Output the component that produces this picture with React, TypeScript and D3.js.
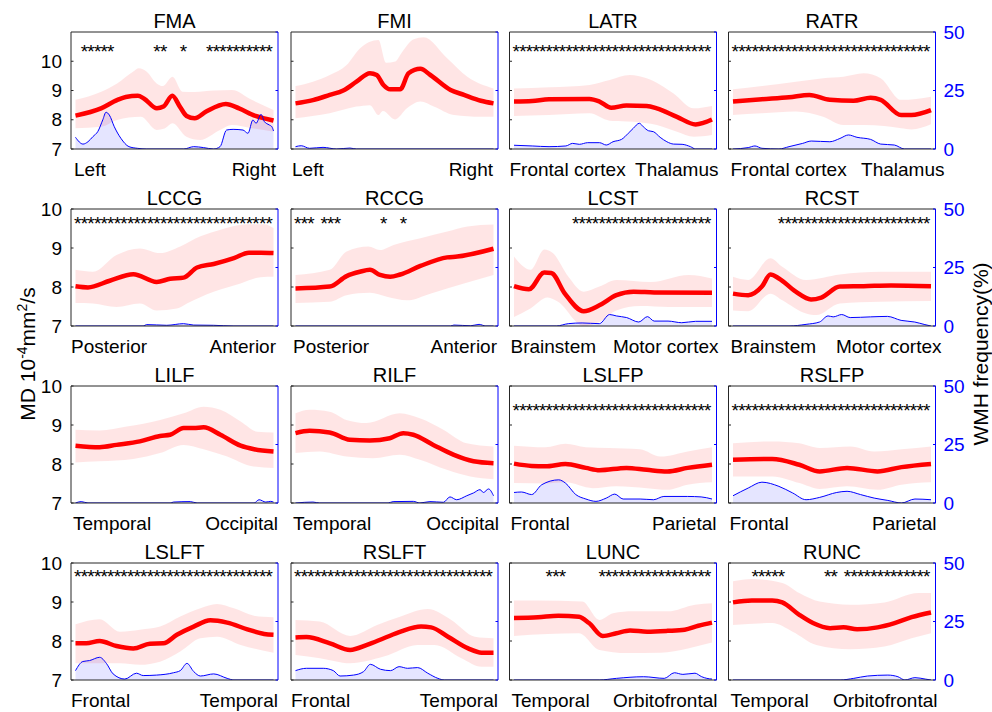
import React from "react";
import * as d3 from "d3";

// panel order: row by row, left to right
const titles = ["FMA", "FMI", "LATR", "RATR", "LCCG", "RCCG", "LCST", "RCST", "LILF", "RILF", "LSLFP", "RSLFP", "LSLFT", "RSLFT", "LUNC", "RUNC"];
const startLabels = ["Left", "Left", "Frontal cortex", "Frontal cortex", "Posterior", "Posterior", "Brainstem", "Brainstem", "Temporal", "Temporal", "Frontal", "Frontal", "Frontal", "Frontal", "Temporal", "Temporal"];
const endLabels = ["Right", "Right", "Thalamus", "Thalamus", "Anterior", "Anterior", "Motor cortex", "Motor cortex", "Occipital", "Occipital", "Parietal", "Parietal", "Temporal", "Temporal", "Orbitofrontal", "Orbitofrontal"];

const rowMax = [11, 10, 10, 10];
const mdTicks = [7, 8, 9, 10];
const wmhTicks = [0, 25, 50];
const starLevel = [10.45, 9.72, 9.47, 9.74];
const nSegments = 30;

// [position along tract (%), MD]
const fmaMean = [[0, 8.14], [12.9, 8.39], [21.2, 8.68], [25.4, 8.78], [31.5, 8.82], [34.5, 8.73], [41.1, 8.39], [44.4, 8.45], [48.9, 8.82], [52.7, 8.45], [56.1, 8.13], [60.2, 8.05], [66, 8.28], [75.9, 8.54], [82.6, 8.39], [90.9, 8.13], [95.9, 8.04], [100, 7.97]];
const fmaUpper = [[0, 8.68], [13, 8.96], [21, 9.24], [29, 9.64], [32, 9.76], [36, 9.64], [41, 9.24], [44, 9.15], [49, 9.47], [54, 8.96], [60, 8.95], [70, 9.0], [79, 9.02], [89, 8.68], [100, 8.33]];
const fmaLower = [[0, 7.71], [13, 7.76], [21, 7.99], [33, 8.1], [41, 7.65], [45, 7.7], [49, 7.88], [56, 7.42], [63, 7.31], [73, 7.65], [79, 7.82], [89, 7.71], [100, 7.59]];
const fmaWmh = [[0, 5.0], [3.8, 2.1], [6.3, 3.1], [8.8, 5.3], [11.3, 7.5], [13.8, 12.5], [15.4, 15.7], [17.1, 14.5], [19.6, 9.5], [22.9, 4.6], [27, 1.0], [31.2, 0.3], [36, 0], [54.7, 0], [59.7, 1.0], [64.7, 0.6], [69.7, 0], [73, 1], [76.3, 8.1], [79.6, 8.4], [84.6, 8.1], [87.1, 6.7], [89.6, 12.4], [91.2, 11], [93.7, 14.8], [95.4, 11.7], [97.8, 10.3], [99.2, 9.5], [100, 7.7]];

const fmiMean = [[0, 8.56], [8.8, 8.67], [17.3, 8.85], [24.1, 9.0], [30.8, 9.3], [37.6, 9.59], [41, 9.53], [44.4, 9.19], [47.8, 9.04], [52.9, 9.04], [57.1, 9.59], [63.1, 9.74], [68.1, 9.53], [78.3, 9.02], [85.1, 8.85], [93.6, 8.65], [100, 8.56]];
const fmiUpper = [[0, 9.15], [8.8, 9.3], [17.3, 9.53], [25.8, 9.87], [32.5, 10.44], [41.9, 10.73], [45.8, 9.95], [50.3, 9.99], [53.7, 10.3], [59.7, 10.75], [64.7, 10.82], [76.6, 10.1], [86.8, 9.47], [100, 9.07]];
const fmiLower = [[0, 8.05], [17.3, 8.22], [30.8, 8.45], [37.6, 8.5], [41.9, 8.16], [44.1, 8.3], [50.3, 8.01], [56.3, 8.39], [63.1, 8.62], [69.8, 8.45], [80, 8.16], [93.6, 8.1], [100, 8.1]];
const fmiWmh = [[0, 1.0], [2.9, 1.4], [7.1, 0.3], [13.9, 0.7], [20.7, 0], [27.5, 0.4], [30.8, 0], [100, 0]];

const latrMean = [[0, 8.62], [9.2, 8.64], [17.7, 8.7], [38.1, 8.71], [43.2, 8.62], [49.1, 8.41], [56.8, 8.49], [67, 8.47], [72.1, 8.39], [82.3, 8.1], [91.7, 7.84], [95.9, 7.9], [100, 8.01]];
const latrUpper = [[0, 9.07], [17.7, 9.11], [38.1, 9.19], [48.3, 9.36], [58.5, 9.53], [67, 9.42], [80.6, 8.9], [90.8, 8.39], [100, 8.47]];
const latrLower = [[0, 8.13], [17.7, 8.16], [38.1, 8.22], [48.3, 7.97], [60.2, 7.93], [72.1, 7.82], [82.3, 7.59], [90.8, 7.42], [100, 7.48]];
const latrWmh = [[0, 1.6], [9.2, 1.3], [17.7, 1.0], [26.2, 1.3], [29.6, 2.4], [33, 2.0], [37.2, 2.7], [43.2, 2.7], [46.6, 1.7], [50, 3.1], [54.3, 4.1], [57.7, 6.7], [60.2, 8.8], [63.3, 11], [65.3, 9.5], [67.9, 7.8], [70.4, 7.4], [73.8, 5], [77.2, 3.1], [80.6, 2.1], [84.9, 2.0], [89.1, 1.0], [91.7, 0], [100, 0]];

const ratrMean = [[0, 8.62], [14.6, 8.7], [28.3, 8.77], [38.6, 8.85], [48.9, 8.68], [60.9, 8.65], [69.5, 8.75], [74.6, 8.68], [84.9, 8.16], [90.1, 8.16], [100, 8.33]];
const ratrUpper = [[0, 9.04], [14.6, 9.15], [31.7, 9.3], [45.5, 9.42], [55.7, 9.47], [66, 9.59], [74.6, 9.42], [84.9, 8.68], [100, 8.79]];
const ratrLower = [[0, 8.16], [14.6, 8.22], [31.7, 8.28], [45.5, 8.1], [55.7, 7.82], [66, 7.82], [76.3, 7.79], [84.9, 7.71], [90.1, 7.67], [100, 7.85]];
const ratrWmh = [[0, 0], [7.7, 0.6], [11.1, 1.3], [14.6, 0.3], [23.2, 0], [28.3, 1.0], [35.2, 2.4], [39.5, 3.4], [48.9, 3.1], [54, 4.5], [58.3, 6.0], [62.6, 5.0], [69.5, 4.1], [74.6, 2.1], [81.5, 1.7], [86.6, 0], [100, 0]];

const lccgMean = [[0, 8.02], [6.3, 7.99], [17.3, 8.16], [29.2, 8.33], [41, 8.13], [47.8, 8.21], [54.6, 8.24], [61.4, 8.5], [69.8, 8.59], [80, 8.74], [87.6, 8.88], [93.6, 8.88], [100, 8.87]];
const lccgUpper = [[0, 8.44], [8.8, 8.39], [20.7, 8.82], [32.5, 8.99], [42.7, 8.87], [52.9, 9.04], [63.1, 9.3], [73.2, 9.47], [86.8, 9.61], [95.3, 9.61], [100, 9.51]];
const lccgLower = [[0, 7.59], [8.8, 7.58], [20.7, 7.49], [32.5, 7.58], [41, 7.4], [51.2, 7.45], [56.3, 7.58], [69.8, 7.88], [83.4, 8.09], [93.6, 8.25], [100, 8.26]];
const lccgWmh = [[0, 0], [34.2, 0], [35.9, 0.6], [46.1, 0.3], [54.6, 1.0], [59.7, 0.4], [69.8, 0.3], [80, 0], [100, 0]];

const rccgMean = [[0, 7.96], [17.3, 8.01], [25.8, 8.28], [32.5, 8.39], [37.6, 8.44], [42.7, 8.31], [47.8, 8.26], [52.9, 8.32], [63.1, 8.54], [76.6, 8.76], [81.7, 8.78], [100, 8.98]];
const rccgUpper = [[0, 8.31], [17.3, 8.44], [25.8, 8.91], [36.8, 9.04], [42.7, 8.95], [49.5, 9.08], [63.1, 9.25], [76.6, 9.42], [86.8, 9.55], [100, 9.6]];
const rccgLower = [[0, 7.59], [17.3, 7.62], [25.8, 7.79], [37.6, 7.85], [46.1, 7.75], [56.3, 7.66], [68.1, 7.83], [85.1, 8.09], [100, 8.31]];
const rccgWmh = [[0, 0], [78.3, 0], [80, 0.4], [88.5, 0.1], [92.7, 0.7], [96.1, 0], [100, 0]];

const lcstMean = [[0, 8.02], [7.5, 7.94], [15.3, 8.37], [18.8, 8.36], [25.7, 7.83], [35.2, 7.38], [43.1, 7.53], [51.7, 7.79], [60.4, 7.88], [70.8, 7.86], [100, 7.85]];
const lcstUpper = [[0, 8.78], [4.9, 8.52], [8.3, 8.44], [15.3, 8.96], [19.6, 8.87], [27.4, 8.27], [35.2, 7.88], [43.1, 8.01], [51.7, 8.18], [69.1, 8.13], [88.2, 8.31], [100, 8.22]];
const lcstLower = [[0, 7.23], [8.3, 7.45], [17, 7.73], [22.2, 7.62], [35.2, 7.0], [43.1, 7.1], [51.7, 7.4], [63.9, 7.51], [77.8, 7.49], [100, 7.49]];
const lcstWmh = [[0, 0], [21.4, 0], [27.4, 1.0], [34.4, 1.3], [43.1, 1.0], [48.3, 4.9], [51.7, 4.3], [56.9, 3.6], [63, 1.7], [67.4, 4.0], [70.8, 2.1], [77.8, 2.1], [84.7, 1.4], [91.7, 2.0], [100, 2.0]];

const rcstMean = [[0, 7.83], [7.7, 7.79], [14.6, 8.01], [18.9, 8.32], [23.2, 8.22], [31.7, 7.88], [39.4, 7.68], [44.6, 7.73], [54, 8.01], [66, 8.02], [79.8, 8.04], [100, 8.02]];
const rcstUpper = [[0, 8.26], [7.7, 8.18], [18.9, 8.74], [24.9, 8.52], [36.9, 8.18], [54, 8.32], [74.6, 8.39], [100, 8.39]];
const rcstLower = [[0, 7.4], [7.7, 7.38], [18.9, 7.83], [24.9, 7.66], [36.9, 7.32], [42, 7.28], [54, 7.58], [74.6, 7.62], [100, 7.64]];
const rcstWmh = [[0, 0], [28.3, 0], [36.9, 0.7], [43.7, 1.7], [48, 4.3], [50.6, 3.9], [54.9, 4.9], [59.2, 3.6], [69.5, 3.9], [78, 4.1], [84.9, 2.4], [91.8, 1.7], [96.9, 0.6], [100, 0]];

const lilfMean = [[0, 8.47], [12.2, 8.43], [20.7, 8.49], [32.5, 8.58], [42.7, 8.72], [47.8, 8.75], [54.6, 8.92], [59.7, 8.92], [64.7, 8.94], [73.2, 8.75], [83.4, 8.47], [90.2, 8.38], [100, 8.32]];
const lilfUpper = [[0, 8.88], [12.2, 8.86], [25.8, 8.96], [42.7, 9.13], [54.6, 9.3], [64.7, 9.47], [73.2, 9.39], [83.4, 9.09], [91.9, 8.83], [100, 8.81]];
const lilfLower = [[0, 8.04], [12.2, 8.07], [29.2, 8.13], [42.7, 8.28], [54.6, 8.49], [64.7, 8.38], [76.6, 8.19], [88.5, 7.95], [100, 7.9]];
const lilfWmh = [[0, 0], [2.9, 0.6], [6.3, 0], [47.8, 0], [49.5, 0.4], [58, 0.6], [61.4, 0], [90.2, 0], [92.7, 1.4], [96.1, 0.4], [98.6, 0.7], [100, 0.4]];

const rilfMean = [[0, 8.79], [7.1, 8.85], [17.2, 8.81], [27.4, 8.62], [37.5, 8.6], [47.6, 8.66], [54.4, 8.79], [59.5, 8.75], [69.6, 8.49], [79.7, 8.24], [89.9, 8.07], [100, 8.02]];
const rilfUpper = [[0, 9.3], [7.1, 9.39], [17.2, 9.34], [25.7, 9.13], [35.8, 9.05], [52.7, 9.3], [62.8, 9.17], [74.7, 8.88], [86.5, 8.53], [100, 8.45]];
const rilfLower = [[0, 8.28], [12.2, 8.32], [25.7, 8.19], [39.2, 8.15], [52.7, 8.24], [62.8, 8.11], [76.4, 7.85], [88.2, 7.68], [100, 7.61]];
const rilfWmh = [[0, 0], [8.8, 0.4], [12.2, 0], [46.8, 0], [49.3, 0.6], [59.5, 0.7], [62.8, 0], [67.9, 0.6], [74.7, 0.3], [78, 2.6], [81.4, 1.4], [86.5, 3.1], [89.9, 4.3], [93.2, 5.7], [94.9, 4.5], [97.5, 6.0], [100, 3.1]];

const lslfpMean = [[0, 8.01], [8.9, 7.95], [15.8, 7.94], [26, 8.0], [36.3, 7.9], [43.2, 7.84], [56.8, 7.9], [67.1, 7.85], [77.4, 7.81], [87.7, 7.9], [100, 7.98]];
const lslfpUpper = [[0, 8.47], [15.8, 8.43], [26, 8.52], [36.3, 8.43], [48.3, 8.41], [63.7, 8.38], [74, 8.19], [87.7, 8.32], [100, 8.43]];
const lslfpLower = [[0, 7.51], [15.8, 7.5], [26, 7.53], [39.7, 7.38], [51.7, 7.43], [67.1, 7.38], [77.4, 7.34], [87.7, 7.47], [100, 7.53]];
const lslfpWmh = [[0, 4.5], [3.8, 4.7], [8.9, 3.6], [14, 7.8], [22.6, 9.9], [26, 8.5], [31.2, 3.6], [36.3, 1.7], [41.4, 0.7], [46.6, 2.1], [50.9, 3.8], [55.1, 1.7], [63.7, 1.7], [70.5, 1.4], [75.7, 2.8], [87.7, 2.8], [94.5, 2.6], [100, 1.7]];

const rslfpMean = [[0, 8.11], [19.8, 8.13], [33.5, 7.98], [43.8, 7.81], [57.6, 7.9], [73, 7.81], [85.1, 7.92], [100, 8.0]];
const rslfpUpper = [[0, 8.53], [19.8, 8.58], [33.5, 8.53], [43.8, 8.41], [59.3, 8.45], [71.3, 8.32], [85.1, 8.38], [100, 8.45]];
const rslfpLower = [[0, 7.68], [19.8, 7.68], [33.5, 7.51], [43.8, 7.36], [57.6, 7.43], [73, 7.34], [85.1, 7.47], [100, 7.53]];
const rslfpWmh = [[0, 3.1], [7.7, 6.4], [14.6, 8.9], [23.2, 7.1], [30.1, 4.3], [36.9, 1.4], [43.8, 2.4], [52.4, 4.5], [57.6, 5.0], [64.4, 3.6], [71.3, 2.1], [78.2, 1.1], [85.1, 0], [91.9, 1.7], [100, 1.4]];

const lslftMean = [[0, 7.94], [5.4, 7.94], [12.2, 8.0], [20.7, 7.87], [29.2, 7.81], [37.6, 7.93], [44.4, 7.94], [51.2, 8.16], [59.7, 8.37], [68.1, 8.53], [76.6, 8.47], [86.8, 8.3], [95.3, 8.18], [100, 8.16]];
const lslftUpper = [[0, 8.43], [12.2, 8.56], [22.4, 8.24], [32.5, 8.29], [42.7, 8.37], [52.9, 8.63], [63.1, 8.84], [71.5, 8.95], [80, 8.84], [90.2, 8.65], [100, 8.61]];
const lslftLower = [[0, 7.43], [12.2, 7.43], [22.4, 7.43], [32.5, 7.39], [42.7, 7.47], [52.9, 7.73], [63.1, 8.07], [71.5, 8.11], [83.4, 7.9], [100, 7.7]];
const lslftWmh = [[0, 4], [3.7, 7.9], [7.1, 8.3], [12.2, 9.7], [15.6, 7.1], [19, 2.6], [24.9, 0.4], [30.8, 2.9], [34.2, 1.9], [41, 2.1], [49.5, 3.1], [52.9, 4], [56.3, 7.1], [59.7, 3.6], [63.1, 1.7], [69.8, 2.6], [76.6, 0.7], [80, 0], [100, 0]];

const rslftMean = [[0, 8.09], [5.5, 8.1], [17.4, 7.94], [27.6, 7.77], [36.1, 7.9], [44.6, 8.07], [53.1, 8.24], [63.4, 8.37], [68.5, 8.35], [77, 8.11], [87.2, 7.81], [94, 7.7], [100, 7.7]];
const rslftUpper = [[0, 8.54], [12.3, 8.5], [27.6, 8.13], [41.2, 8.41], [53.1, 8.63], [66.8, 8.82], [78.7, 8.54], [90.6, 8.11], [100, 8.07]];
const rslftLower = [[0, 7.64], [12.3, 7.56], [27.6, 7.43], [44.6, 7.6], [61.7, 7.9], [70.2, 7.9], [83.8, 7.56], [94, 7.34], [100, 7.34]];
const rslftWmh = [[0, 4], [5.5, 5], [14, 5], [19.1, 4], [22.5, 1.7], [29.3, 2.1], [34.4, 3.6], [37.8, 6.7], [42.9, 4.6], [48, 4], [52.3, 5.7], [56.6, 5], [61.7, 5.3], [66.8, 2.9], [71.9, 0.7], [75.3, 0], [100, 0]];

const luncMean = [[0, 8.59], [12.1, 8.61], [22.4, 8.65], [32.8, 8.62], [37.9, 8.46], [44.8, 8.13], [51.7, 8.2], [58.6, 8.27], [67.2, 8.24], [77.6, 8.26], [86.2, 8.29], [93.1, 8.39], [100, 8.47]];
const luncUpper = [[0, 9.04], [12.1, 9.04], [34.5, 9.01], [43.1, 8.54], [50, 8.71], [60.3, 8.76], [77.6, 8.76], [91.4, 8.93], [100, 8.97]];
const luncLower = [[0, 8.13], [17.2, 8.18], [32.8, 8.2], [43.1, 7.77], [56.9, 7.69], [74.1, 7.7], [87.9, 7.81], [100, 7.96]];
const luncWmh = [[0, 0], [43.1, 0], [51.7, 0.7], [65.5, 1.4], [75.9, 0.7], [81, 3.1], [85.3, 2.4], [91.4, 2.9], [94.8, 1.4], [97.4, 0.7], [100, 0.4]];

const runcMean = [[0, 8.99], [9.5, 9.04], [19.8, 9.04], [24.9, 8.99], [33.5, 8.67], [40.4, 8.46], [49, 8.33], [55.8, 8.35], [62.7, 8.3], [73, 8.35], [81.6, 8.46], [90.2, 8.61], [100, 8.73]];
const runcUpper = [[0, 9.53], [9.5, 9.59], [24.9, 9.49], [33.5, 9.23], [43.8, 9.01], [59.3, 8.93], [76.5, 8.99], [93.6, 9.23], [100, 9.23]];
const runcLower = [[0, 8.41], [19.8, 8.46], [30.1, 8.24], [42.1, 7.9], [59.3, 7.79], [76.5, 7.86], [90.2, 8.07], [100, 8.2]];
const runcWmh = [[0, 0], [54.1, 0], [61, 0.7], [67.9, 1.7], [78.2, 2.1], [83.3, 1.4], [86.8, 0], [91.9, 1.0], [97.1, 0.4], [100, 0]];

// runs of significant segments (segment index 0..29, inclusive)
const fmaStars = [[1, 5], [12, 13], [16, 16], [20, 29]];
const rccgStars = [[0, 2], [4, 6], [13, 13], [16, 16]];
const lcstStars = [[9, 29]];
const rcstStars = [[7, 29]];
const luncStars = [[5, 7], [13, 29]];
const runcStars = [[3, 7], [14, 15], [17, 29]];
const allStars = [[0, 29]];
const noStars: number[][] = [];

const panels = [
  { mean: fmaMean, upper: fmaUpper, lower: fmaLower, wmh: fmaWmh, stars: fmaStars },
  { mean: fmiMean, upper: fmiUpper, lower: fmiLower, wmh: fmiWmh, stars: noStars },
  { mean: latrMean, upper: latrUpper, lower: latrLower, wmh: latrWmh, stars: allStars },
  { mean: ratrMean, upper: ratrUpper, lower: ratrLower, wmh: ratrWmh, stars: allStars },
  { mean: lccgMean, upper: lccgUpper, lower: lccgLower, wmh: lccgWmh, stars: allStars },
  { mean: rccgMean, upper: rccgUpper, lower: rccgLower, wmh: rccgWmh, stars: rccgStars },
  { mean: lcstMean, upper: lcstUpper, lower: lcstLower, wmh: lcstWmh, stars: lcstStars },
  { mean: rcstMean, upper: rcstUpper, lower: rcstLower, wmh: rcstWmh, stars: rcstStars },
  { mean: lilfMean, upper: lilfUpper, lower: lilfLower, wmh: lilfWmh, stars: noStars },
  { mean: rilfMean, upper: rilfUpper, lower: rilfLower, wmh: rilfWmh, stars: noStars },
  { mean: lslfpMean, upper: lslfpUpper, lower: lslfpLower, wmh: lslfpWmh, stars: allStars },
  { mean: rslfpMean, upper: rslfpUpper, lower: rslfpLower, wmh: rslfpWmh, stars: allStars },
  { mean: lslftMean, upper: lslftUpper, lower: lslftLower, wmh: lslftWmh, stars: allStars },
  { mean: rslftMean, upper: rslftUpper, lower: rslftLower, wmh: rslftWmh, stars: allStars },
  { mean: luncMean, upper: luncUpper, lower: luncLower, wmh: luncWmh, stars: luncStars },
  { mean: runcMean, upper: runcUpper, lower: runcLower, wmh: runcWmh, stars: runcStars },
];

// layout
const colX = [71, 291, 509.5, 728.5];
const rowY = [32, 209, 386, 563];
const boxW = 207;
const boxH = 117;
const inset = 4.5;
const startShift = [3, 1, 0, 2, 0, 2, 1, 2, 2, 2, 1, 1, 0, 0, 2, 2];
const endShift = [-2, -5, 2, 9, -2, -1, 2, 6, 0, 1, 0, 1, 0, 0, 1, 2];

const font = "'Liberation Sans', Arial, Helvetica, sans-serif";
const axisGray = "#262626";
const blue = "#0000ff";

type Pt = number[];

function Panel({ i }: { i: number }) {
  const p = panels[i];
  const col = i % 4;
  const row = Math.floor(i / 4);
  const x0 = colX[col];
  const y0 = rowY[row];

  const x = d3.scaleLinear().domain([0, 100]).range([x0 + inset, x0 + boxW - inset]);
  const seg = d3.scaleLinear().domain([0, nSegments]).range([x0 + inset, x0 + boxW - inset]);
  const y = d3.scaleLinear().domain([7, rowMax[row]]).range([y0 + boxH, y0]);
  const yr = d3.scaleLinear().domain([0, 50]).range([y0 + boxH, y0]);

  const mdLine = d3.line<Pt>().x(d => x(d[0])).y(d => y(d[1])).curve(d3.curveMonotoneX);
  const band = (mdLine(p.upper) || "") + (mdLine([...p.lower].reverse()) || "").replace(/^M/, "L") + "Z";
  const wmhLine = d3.line<Pt>().x(d => x(d[0])).y(d => yr(d[1])).curve(d3.curveMonotoneX);
  const wmhArea = d3.area<Pt>().x(d => x(d[0])).y0(yr(0)).y1(d => yr(d[1])).curve(d3.curveMonotoneX);

  const starIdx: number[] = [];
  p.stars.forEach(([a, b]) => { for (let k = a; k <= b; k++) starIdx.push(k); });
  const starY = y(starLevel[row]);

  const clipId = `clip${i}`;

  return (
    <g>
      <defs>
        <clipPath id={clipId}>
          <rect x={x0} y={y0} width={boxW} height={boxH} />
        </clipPath>
      </defs>
      <g clipPath={`url(#${clipId})`}>
        <path d={band} fill="#ff0000" fillOpacity={0.1} stroke="none" />
        <path d={wmhArea(p.wmh) || ""} fill={blue} fillOpacity={0.1} stroke="none" />
        <path d={mdLine(p.mean) || ""} fill="none" stroke="#ff0000" strokeWidth={4.5} strokeLinejoin="round" />
        <path d={wmhLine(p.wmh) || ""} fill="none" stroke={blue} strokeWidth={1} />
      </g>

      {/* box */}
      <line x1={x0} x2={x0 + boxW} y1={y0} y2={y0} stroke={axisGray} strokeWidth={1} />
      <line x1={x0} x2={x0 + boxW} y1={y0 + boxH} y2={y0 + boxH} stroke={axisGray} strokeWidth={1} />
      <line x1={x0} x2={x0} y1={y0} y2={y0 + boxH} stroke={axisGray} strokeWidth={1} />
      <line x1={x0 + boxW} x2={x0 + boxW} y1={y0} y2={y0 + boxH} stroke={blue} strokeWidth={1} />

      {/* inward ticks */}
      {mdTicks.map(t => (
        <line key={`l${t}`} x1={x0} x2={x0 + 2.5} y1={y(t)} y2={y(t)} stroke={axisGray} strokeWidth={1} />
      ))}
      {wmhTicks.map(t => (
        <line key={`r${t}`} x1={x0 + boxW - 2.5} x2={x0 + boxW} y1={yr(t)} y2={yr(t)} stroke={blue} strokeWidth={1} />
      ))}

      {col === 0 && mdTicks.map(t => (
        <text key={`lt${t}`} x={x0 - 9} y={y(t)} dy="0.35em" textAnchor="end" fontSize={19} fontFamily={font} fill="#000">{t}</text>
      ))}
      {col === 3 && wmhTicks.map(t => (
        <text key={`rt${t}`} x={x0 + boxW + 8} y={yr(t)} dy="0.35em" textAnchor="start" fontSize={19} fontFamily={font} fill={blue}>{t}</text>
      ))}

      {starIdx.map(k => (
        <text key={`s${k}`} x={seg(k + 0.5) - 1} y={starY + 10} textAnchor="middle" fontSize={19} fontFamily={font} fill="#000">*</text>
      ))}

      <text x={x0 + boxW / 2} y={y0 - 4.5} textAnchor="middle" fontSize={20} fontFamily={font} fill="#000">{titles[i]}</text>
      <text x={x0 + startShift[i]} y={y0 + boxH + 26.5} textAnchor="start" fontSize={19} fontFamily={font} fill="#000">{startLabels[i]}</text>
      <text x={x0 + boxW + endShift[i]} y={y0 + boxH + 26.5} textAnchor="end" fontSize={19} fontFamily={font} fill="#000">{endLabels[i]}</text>
    </g>
  );
}

export default function App() {
  return (
    <svg width={992} height={712} style={{ position: "absolute", left: 0, top: 0, background: "#fff" }}>
      <rect x={0} y={0} width={992} height={712} fill="#fff" />
      {panels.map((_, i) => <Panel key={i} i={i} />)}
      <text transform="translate(35,354) rotate(-90)" textAnchor="middle" fontSize={21} fontFamily={font} fill="#000">
        MD 10<tspan baselineShift="super" fontSize={14}>-4</tspan>mm<tspan baselineShift="super" fontSize={14}>2</tspan>/s
      </text>
      <text transform="translate(988,354) rotate(-90)" textAnchor="middle" fontSize={21} fontFamily={font} fill="#000">
        WMH frequency(%)
      </text>
    </svg>
  );
}
